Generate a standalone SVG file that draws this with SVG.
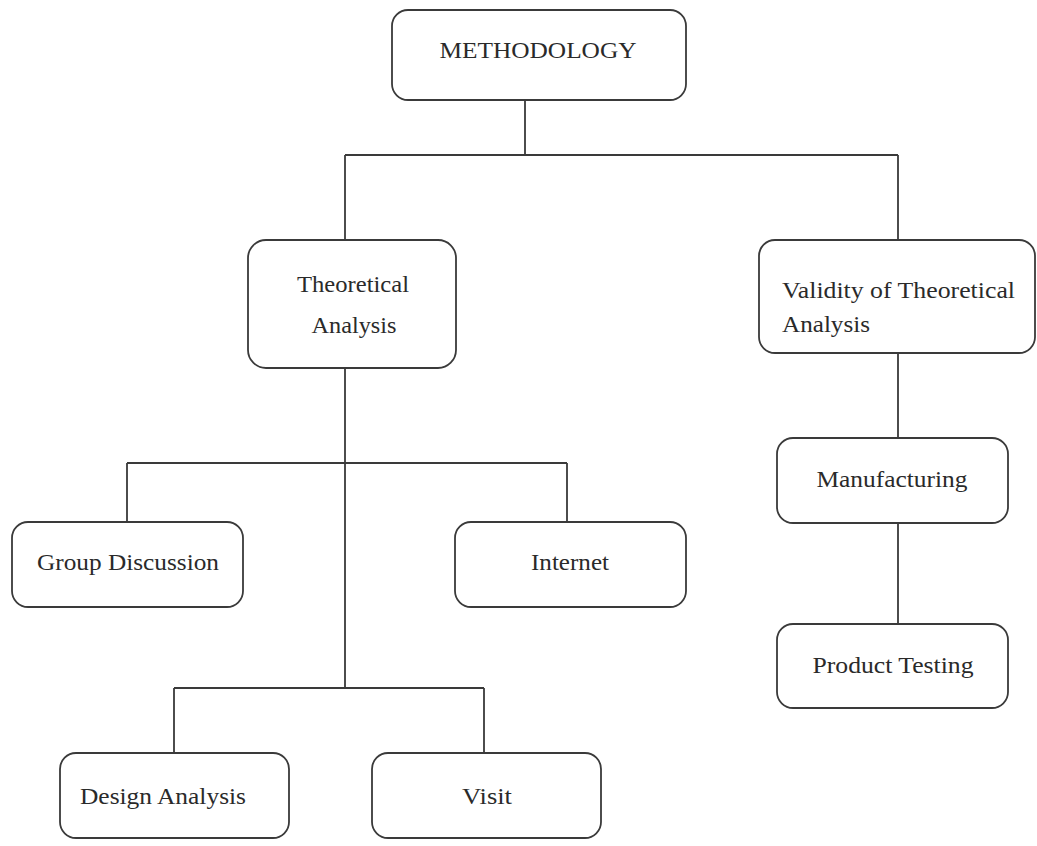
<svg xmlns="http://www.w3.org/2000/svg" width="1037" height="846" viewBox="0 0 1037 846">
<style>
.box{fill:#fff;stroke:#3a3a3a;stroke-width:1.8}
.lbl{font-family:"Liberation Serif","Times New Roman",serif;font-size:23px;fill:#2a2a2a}
.c{text-anchor:middle}
.conn{stroke:#3a3a3a;stroke-width:1.8;fill:none}
</style>
<rect width="1037" height="846" fill="#fff"/>
<g id="connectors">
<path class="conn" d="M525 100V155M345 155H898M345 155V240M898 155V240"/>
<path class="conn" d="M345 368V688M127 463H567M127 463V522M567 463V524"/>
<path class="conn" d="M174 688H484M174 688V753M484 688V753"/>
<path class="conn" d="M898 353V438M898 523V624"/>
</g>
<g id="methodology"><rect class="box" x="392" y="10" width="294" height="90" rx="16"/><text class="lbl c" x="538" y="58" textLength="197" lengthAdjust="spacingAndGlyphs">METHODOLOGY</text></g>
<g id="theoretical"><rect class="box" x="248" y="240" width="208" height="128" rx="18"/><text class="lbl c" x="353" y="292" textLength="112" lengthAdjust="spacingAndGlyphs">Theoretical</text><text class="lbl c" x="354" y="333" textLength="85" lengthAdjust="spacingAndGlyphs">Analysis</text></g>
<g id="validity"><rect class="box" x="759" y="240" width="276" height="113" rx="16"/><text class="lbl" x="782" y="298" textLength="233" lengthAdjust="spacingAndGlyphs">Validity of Theoretical</text><text class="lbl" x="782" y="332" textLength="88" lengthAdjust="spacingAndGlyphs">Analysis</text></g>
<g id="group-discussion"><rect class="box" x="12" y="522" width="231" height="85" rx="16"/><text class="lbl c" x="128" y="570" textLength="182" lengthAdjust="spacingAndGlyphs">Group Discussion</text></g>
<g id="internet"><rect class="box" x="455" y="522" width="231" height="85" rx="16"/><text class="lbl c" x="570" y="570" textLength="78" lengthAdjust="spacingAndGlyphs">Internet</text></g>
<g id="design-analysis"><rect class="box" x="60" y="753" width="229" height="85" rx="16"/><text class="lbl" x="80" y="804" textLength="166" lengthAdjust="spacingAndGlyphs">Design Analysis</text></g>
<g id="visit"><rect class="box" x="372" y="753" width="229" height="85" rx="16"/><text class="lbl c" x="487" y="804" textLength="50" lengthAdjust="spacingAndGlyphs">Visit</text></g>
<g id="manufacturing"><rect class="box" x="777" y="438" width="231" height="85" rx="16"/><text class="lbl c" x="892" y="487" textLength="151" lengthAdjust="spacingAndGlyphs">Manufacturing</text></g>
<g id="product-testing"><rect class="box" x="777" y="624" width="231" height="84" rx="16"/><text class="lbl c" x="893" y="673" textLength="161" lengthAdjust="spacingAndGlyphs">Product Testing</text></g>
</svg>
